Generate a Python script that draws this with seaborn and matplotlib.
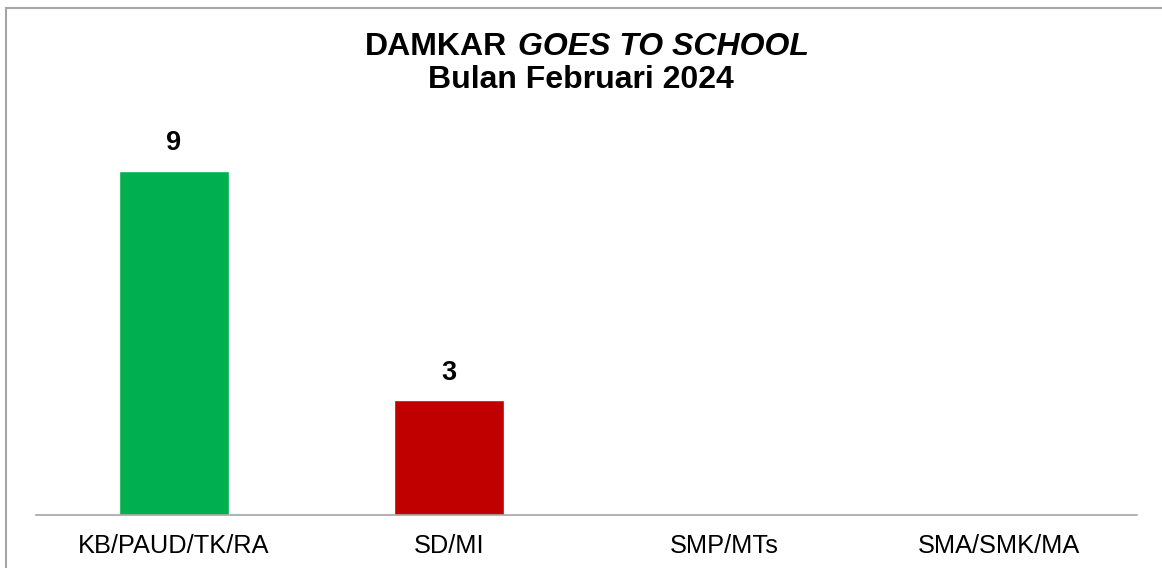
import matplotlib.pyplot as plt
import pandas as pd
import seaborn as sns
from matplotlib.patches import Rectangle

categories = ["KB/PAUD/TK/RA", "SD/MI", "SMP/MTs", "SMA/SMK/MA"]
values = [9, 3, 0, 0]
bar_colors = ["#00B050", "#C00000", "#4472C4", "#ED7D31"]
title_main = "DAMKAR "
title_italic = " GOES TO SCHOOL"
subtitle = "Bulan Februari 2024"


def main():
    data = pd.DataFrame({"kategori": categories, "jumlah": values})

    sns.set_theme(style="white")
    plt.rcParams["font.family"] = ["Liberation Sans", "DejaVu Sans"]
    plt.rcParams["text.color"] = "black"

    W, H = 1162, 568
    fig = plt.figure(figsize=(W / 100, H / 100), dpi=100)
    ax = fig.add_axes([36 / W, 1 - 515 / H, (1137 - 36) / W, (515 - 133) / H])

    sns.barplot(
        data=data, x="kategori", y="jumlah", hue="kategori",
        palette=bar_colors, width=0.4, legend=False, ax=ax, saturation=1,
    )
    ax.set_ylim(0, 10)
    ax.set_xlim(-0.5, len(categories) - 0.5)
    ax.set_xlabel("")
    ax.set_ylabel("")
    ax.set_yticks([])
    for side in ["left", "right", "top"]:
        ax.spines[side].set_visible(False)
    ax.spines["bottom"].set_color("#A6A6A6")
    ax.spines["bottom"].set_linewidth(1.2)
    ax.tick_params(axis="x", length=0, pad=14, labelsize=18.3, labelcolor="black")

    for i, v in enumerate(values):
        if v > 0:
            ax.annotate(str(v), (i, v), xytext=(0, 20), textcoords="offset points",
                        ha="center", va="center", fontsize=19.5, fontweight="bold",
                        color="black")

    # judul: bagian "GOES TO SCHOOL" miring
    t1 = fig.text(0, 1 - 47 / H, title_main.rstrip(), fontsize=23, fontweight="bold", va="center")
    t2 = fig.text(0, 1 - 47 / H, title_italic.strip(), fontsize=23, fontweight="bold",
                  style="italic", va="center")
    fig.text(0.5, 1 - 80 / H, subtitle, fontsize=23, fontweight="bold",
             ha="center", va="center")
    renderer = fig.canvas.get_renderer()
    w1 = t1.get_window_extent(renderer).width
    w2 = t2.get_window_extent(renderer).width
    gap = 11
    x0 = (W - w1 - w2 - gap) / 2 + 6
    t1.set_x(x0 / W)
    t2.set_x((x0 + w1 + gap) / W)

    fig.patches.append(Rectangle((6 / W, -0.1), 1.2, 1.1 - 8 / H, transform=fig.transFigure,
                                 fill=False, edgecolor="#A6A6A6", linewidth=1.5))

    fig.savefig("out.png", dpi=100)
    plt.close(fig)


if __name__ == "__main__":
    main()
